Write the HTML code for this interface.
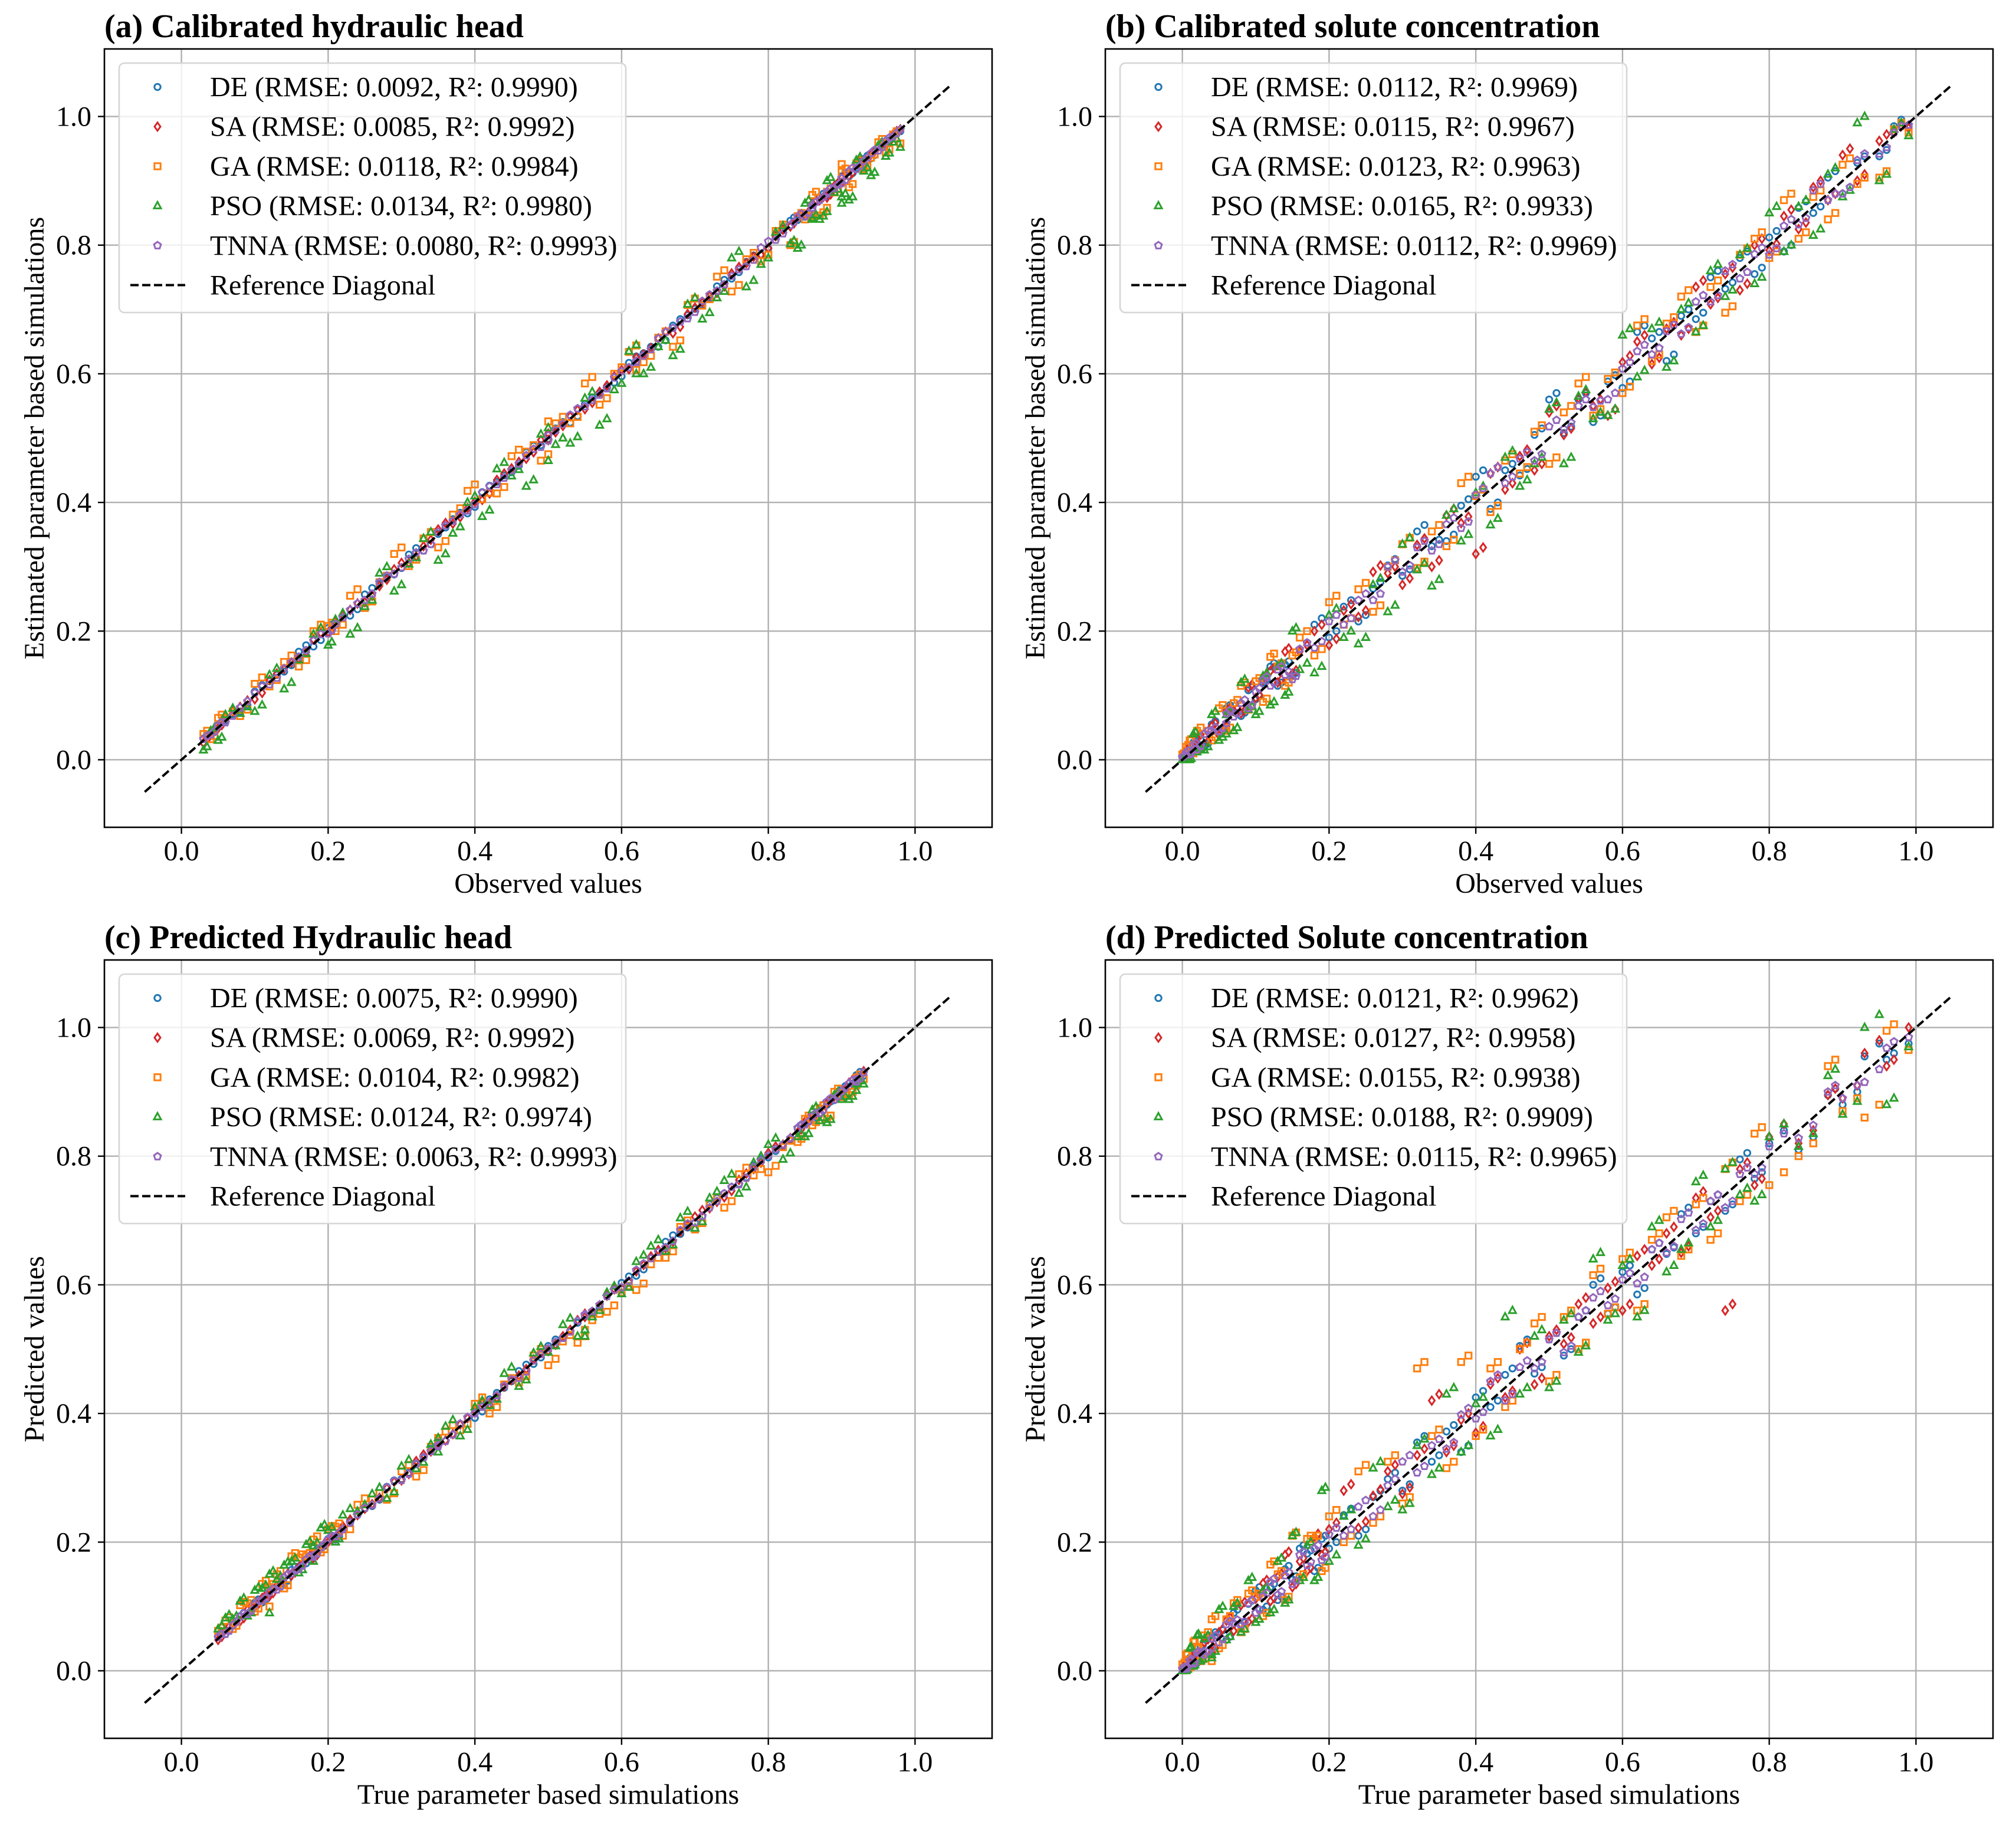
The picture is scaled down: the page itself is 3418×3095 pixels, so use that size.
<!DOCTYPE html>
<html><head><meta charset="utf-8">
<style>
html,body{margin:0;padding:0;background:#fff;}
svg{display:block;font-family:"Liberation Serif","DejaVu Serif",serif;}
</style></head>
<body>
<svg id="fig" width="3418" height="3095" viewBox="0 0 3418 3095" xmlns="http://www.w3.org/2000/svg">
<rect width="3418" height="3095" fill="#fff"/>
</svg>
<script>
// ---------- data (y = x + residual/1000) ----------
const tickVals = [0, 0.2, 0.4, 0.6, 0.8, 1.0];
const tickLabels = ["0.0","0.2","0.4","0.6","0.8","1.0"];
const seriesNames = ["DE","SA","GA","PSO","TNNA"];

const aX = [0.03,0.04,0.05,0.06,0.08,0.10,0.12,0.14,0.16,0.18,0.20,0.21,0.23,0.25,0.27,0.29,0.31,0.33,0.35,0.37,0.39,0.41,0.43,0.45,0.47,0.49,0.51,0.53,0.55,0.57,0.59,0.61,0.63,0.65,0.67,0.69,0.71,0.73,0.75,0.77,0.79,0.81,0.83,0.84,0.85,0.86,0.87,0.88,0.89,0.90,0.91,0.92,0.93,0.94,0.95,0.96,0.97,0.98,0.50,0.62];
const aX2 = [0.035,0.045,0.055,0.07,0.09,0.11,0.13,0.15,0.17,0.19,0.205,0.22,0.24,0.26,0.28,0.30,0.32,0.34,0.36,0.38,0.40,0.42,0.44,0.46,0.48,0.50,0.52,0.54,0.56,0.58,0.60,0.62,0.64,0.66,0.68,0.70,0.72,0.74,0.76,0.78,0.80,0.82,0.835,0.845,0.855,0.865,0.875,0.885,0.895,0.905,0.915,0.925,0.935,0.945,0.955,0.965,0.975,0.88,0.90,0.86];
const aDE = [3,-2,4,1,-5,6,2,-3,8,-4,5,0,-6,7,3,-2,9,-5,1,4,-7,6,2,-3,8,-1,5,-6,3,0,-4,7,2,-8,5,1,-3,6,-2,4,-5,3,8,-1,-6,2,5,-4,1,7,-3,0,4,-5,2,-2,1,-3,6,-4];
const aSA = [-4,3,-1,5,2,-6,4,1,-3,7,-2,5,3,-5,0,6,-4,2,8,-3,1,-6,5,3,-2,7,-1,4,-5,2,6,-3,0,5,-7,3,1,-4,6,2,-5,4,-1,3,-3,5,0,-6,2,4,-2,6,-4,1,3,-5,2,0,-3,5];
const aGA = [10,-8,15,5,-12,18,-6,12,-15,20,8,-10,25,-14,6,30,-9,14,-20,11,28,-5,-16,22,9,-25,13,-7,35,-18,10,24,-12,6,-28,17,-4,21,-22,8,-15,12,-30,5,-10,18,-24,3,-8,14,-20,7,-12,-4,10,-16,2,-22,26,-14];
const aPSO = [-15,5,-20,10,-8,-25,12,-30,-5,15,-22,8,-35,-12,20,-28,-6,14,-40,-18,10,-32,22,-9,-45,16,-20,-38,12,-50,-15,25,-30,-8,-42,18,-25,-12,30,-35,-20,10,-28,-45,15,-18,-30,20,-8,-25,-40,12,-15,-32,5,-22,-10,-28,-35,-20];
const aTNNA = [2,-1,3,-2,1,4,-3,2,0,5,-4,1,3,-2,6,-1,2,-5,4,1,-3,5,-2,0,3,-4,2,6,-1,-3,4,0,-2,5,1,-4,3,-1,2,-3,6,-2,1,4,-5,2,0,3,-1,-4,5,-2,1,3,-3,2,-1,0,4,-2];

const bX = [0.00,0.005,0.01,0.015,0.02,0.03,0.04,0.05,0.06,0.07,0.08,0.09,0.10,0.11,0.12,0.13,0.14,0.15,0.16,0.18,0.20,0.22,0.24,0.26,0.28,0.30,0.32,0.34,0.36,0.38,0.40,0.42,0.44,0.46,0.48,0.50,0.52,0.54,0.56,0.58,0.60,0.62,0.64,0.66,0.68,0.70,0.72,0.74,0.76,0.78,0.80,0.82,0.84,0.86,0.88,0.90,0.92,0.95,0.97,0.99];
const bX2 = [0.002,0.008,0.012,0.018,0.025,0.035,0.045,0.055,0.065,0.075,0.085,0.095,0.105,0.115,0.125,0.135,0.145,0.155,0.17,0.19,0.21,0.23,0.25,0.27,0.29,0.31,0.33,0.35,0.37,0.39,0.41,0.43,0.45,0.47,0.49,0.51,0.53,0.55,0.57,0.59,0.61,0.63,0.65,0.67,0.69,0.71,0.73,0.75,0.77,0.79,0.81,0.83,0.85,0.87,0.89,0.91,0.93,0.96,0.98,0.06];
const bDE = [5,8,-3,12,6,-10,15,-8,20,4,-12,18,-6,10,25,-15,8,-20,12,30,-10,18,-25,6,22,-14,35,-8,-20,15,40,-30,10,-18,25,60,-12,20,-35,8,-22,45,15,-40,10,-15,30,-8,20,-25,12,-30,18,-10,25,-20,8,-12,15,-5];
const bSA = [3,10,-2,8,14,-6,12,-12,16,6,-8,22,-4,14,18,-10,28,-16,8,20,-22,12,-18,32,10,-28,14,-40,20,-12,-80,25,-20,12,-30,40,-15,22,-10,-45,18,30,-25,10,-20,35,-12,15,-30,20,-8,25,-15,30,-10,40,-20,12,5,-8];
const bGA = [8,15,20,-5,25,10,-10,30,-15,18,35,-12,22,-20,40,15,-25,12,30,-18,45,-10,25,-30,20,35,-22,15,-28,50,10,-35,25,-15,30,-40,20,45,-25,12,-30,55,-20,18,40,-35,15,-45,25,30,-20,50,-30,15,-40,25,-25,-45,10,-15];
const bPSO = [0,-5,-10,25,-8,-15,30,-20,10,-25,40,-12,-30,20,-35,15,-40,50,-20,-45,25,-30,-60,12,-50,35,-25,-70,20,-40,15,-55,30,-35,-20,45,-60,25,-30,-45,60,-25,30,-50,20,-35,40,-20,25,-40,50,-30,20,-45,30,-25,70,-50,10,-20];
const bTNNA = [4,6,-2,8,-4,10,5,-6,12,-3,8,-10,6,14,-5,10,-8,-25,12,-6,15,-10,8,-12,20,-8,10,-15,6,-20,12,25,-10,8,-15,18,-6,10,-12,-20,8,15,-10,6,-18,12,-8,20,-12,6,-15,10,-8,25,-10,-20,12,-8,5,-3];

const cX = [0.05,0.06,0.07,0.08,0.09,0.10,0.11,0.12,0.13,0.14,0.15,0.16,0.17,0.18,0.19,0.20,0.21,0.22,0.24,0.26,0.28,0.30,0.32,0.34,0.36,0.38,0.40,0.42,0.44,0.46,0.48,0.50,0.52,0.54,0.56,0.58,0.60,0.62,0.64,0.66,0.68,0.70,0.72,0.74,0.76,0.78,0.80,0.82,0.84,0.85,0.86,0.87,0.88,0.89,0.90,0.91,0.92,0.93,0.55,0.35];
const cX2 = [0.055,0.065,0.075,0.085,0.095,0.105,0.115,0.125,0.135,0.145,0.155,0.165,0.175,0.185,0.195,0.205,0.215,0.23,0.25,0.27,0.29,0.31,0.33,0.35,0.37,0.39,0.41,0.43,0.45,0.47,0.49,0.51,0.53,0.55,0.57,0.59,0.61,0.63,0.65,0.67,0.69,0.71,0.73,0.75,0.77,0.79,0.81,0.83,0.845,0.855,0.865,0.875,0.885,0.895,0.905,0.915,0.925,0.92,0.12,0.18];
const cDE = [4,-3,2,5,-2,6,-4,3,1,-5,7,2,-3,4,-1,5,-6,3,2,-4,6,-2,1,5,-3,4,-7,2,0,6,-3,5,-2,1,-5,4,3,-6,2,7,-1,-4,5,2,-3,6,-2,-5,3,1,-4,5,0,-3,4,-2,6,-5,3,1];
const cSA = [-2,4,1,-3,5,-1,3,-4,2,6,-2,1,4,-5,3,0,-3,5,2,-1,4,-4,6,1,-2,3,5,-6,2,-1,4,-3,0,5,-2,3,-5,1,4,-3,2,6,-1,-4,3,0,5,-2,-3,4,1,-5,2,3,-1,4,-4,2,0,3];
const cGA = [12,18,-5,22,15,-8,25,10,20,-12,28,16,8,24,-6,20,14,-10,18,6,-14,10,-18,8,12,-6,15,-20,5,-12,10,-25,-8,-30,-15,-22,-12,-28,-8,-18,10,-14,6,-20,12,-10,-25,-6,-18,8,-12,4,-22,10,-8,-15,2,-10,-20,12];
const cPSO = [15,22,10,28,-5,25,18,30,12,24,20,-8,26,14,32,18,-10,22,8,15,-12,18,-6,12,20,-15,10,-8,22,-18,14,-5,18,-20,-10,8,-14,16,20,-8,24,-12,15,22,-18,10,18,-25,-10,-20,12,-15,-28,5,-12,-22,-8,-18,-30,-10];
const cTNNA = [2,-3,1,4,-2,3,-1,2,-4,5,1,-2,3,-3,2,4,-1,0,3,-2,5,-4,2,1,-3,4,0,-2,3,-5,2,1,-3,4,-1,2,-4,3,1,-2,5,-3,0,2,-4,3,1,-2,4,-1,2,-3,5,-2,1,3,-4,0,2,-1];

const dX = [0.00,0.005,0.01,0.015,0.02,0.025,0.03,0.04,0.05,0.06,0.07,0.08,0.09,0.10,0.11,0.12,0.13,0.14,0.15,0.16,0.17,0.18,0.19,0.20,0.22,0.24,0.26,0.28,0.30,0.32,0.34,0.36,0.38,0.40,0.42,0.44,0.46,0.48,0.50,0.52,0.54,0.56,0.58,0.60,0.62,0.64,0.66,0.68,0.70,0.72,0.74,0.76,0.78,0.80,0.84,0.88,0.90,0.93,0.96,0.99];
const dX2 = [0.003,0.007,0.012,0.017,0.022,0.028,0.035,0.045,0.055,0.065,0.075,0.085,0.095,0.105,0.115,0.125,0.135,0.145,0.155,0.165,0.175,0.185,0.195,0.21,0.23,0.25,0.27,0.29,0.31,0.33,0.35,0.37,0.39,0.41,0.43,0.45,0.47,0.49,0.51,0.53,0.55,0.57,0.59,0.61,0.63,0.65,0.67,0.69,0.71,0.73,0.75,0.77,0.79,0.82,0.86,0.89,0.92,0.95,0.97,0.04];
const dDE = [5,-3,10,6,-8,12,-5,15,8,-12,20,-10,14,25,-15,10,-20,18,-8,30,12,-25,15,-10,22,-30,10,18,-20,35,-15,12,-40,25,-10,20,45,-18,15,-30,10,40,-25,20,-35,15,-12,30,-20,10,-25,35,-15,20,-30,15,-20,25,-10,-15];
const dSA = [4,8,-2,12,6,-6,14,-10,10,18,-8,22,-14,12,26,-12,16,40,-20,10,-15,28,-10,20,60,-18,12,30,-25,15,80,-20,10,-30,25,-15,40,-35,20,-12,30,-20,15,-40,25,-10,20,-30,35,-15,-180,20,-25,30,-20,15,-10,30,-20,10];
const dGA = [10,20,-5,30,15,-10,25,40,-15,20,35,-20,30,15,-25,45,20,-30,60,-15,35,25,-35,40,-20,70,-30,45,-40,150,25,-45,100,-35,50,-30,40,60,-50,30,-40,55,-25,40,-60,30,45,-35,25,-50,40,-30,55,-45,-40,60,-30,-70,35,-25];
const dPSO = [0,-5,25,-8,35,-10,20,-15,45,-12,30,-20,50,-25,15,-30,40,-35,60,-20,25,-40,90,-30,20,-45,55,-25,-50,30,-35,70,-40,15,-55,110,-30,40,-60,25,-45,80,-35,30,-70,50,-40,-25,60,-30,40,-20,-50,30,-25,45,-35,70,-80,-20];
const dTNNA = [3,-2,6,-4,8,2,-5,10,-6,12,4,-8,15,-10,6,18,-12,8,-15,20,-6,10,-18,12,-10,15,-20,8,25,-12,10,-15,18,-8,30,-20,12,-10,15,-25,10,20,-12,8,-18,15,-10,22,-15,10,-20,12,-8,15,-12,20,-10,-15,8,-5];

const aLegend = ["DE (RMSE: 0.0092, R²: 0.9990)","SA (RMSE: 0.0085, R²: 0.9992)","GA (RMSE: 0.0118, R²: 0.9984)","PSO (RMSE: 0.0134, R²: 0.9980)","TNNA (RMSE: 0.0080, R²: 0.9993)"];
const bLegend = ["DE (RMSE: 0.0112, R²: 0.9969)","SA (RMSE: 0.0115, R²: 0.9967)","GA (RMSE: 0.0123, R²: 0.9963)","PSO (RMSE: 0.0165, R²: 0.9933)","TNNA (RMSE: 0.0112, R²: 0.9969)"];
const cLegend = ["DE (RMSE: 0.0075, R²: 0.9990)","SA (RMSE: 0.0069, R²: 0.9992)","GA (RMSE: 0.0104, R²: 0.9982)","PSO (RMSE: 0.0124, R²: 0.9974)","TNNA (RMSE: 0.0063, R²: 0.9993)"];
const dLegend = ["DE (RMSE: 0.0121, R²: 0.9962)","SA (RMSE: 0.0127, R²: 0.9958)","GA (RMSE: 0.0155, R²: 0.9938)","PSO (RMSE: 0.0188, R²: 0.9909)","TNNA (RMSE: 0.0115, R²: 0.9965)"];

// ---------- rendering ----------
const NS = "http://www.w3.org/2000/svg";
const svg = document.getElementById("fig");
const COLORS = ["#1f77b4","#d62728","#ff7f0e","#2ca02c","#9467bd"];
const XMIN = -0.105, XMAX = 1.105;
function mk(tag, attrs, parent){ const e=document.createElementNS(NS,tag); for(const k in attrs) e.setAttribute(k,attrs[k]); (parent||svg).appendChild(e); return e; }

function markerPath(k, cx, cy){
  if(k===1){ return `M${cx},${cy-7} L${cx+5},${cy} L${cx},${cy+7} L${cx-5},${cy} Z`; }
  if(k===2){ return `M${cx-5.2},${cy-5.2} h10.4 v10.4 h-10.4 Z`; }
  if(k===3){ return `M${cx},${cy-6.8} L${cx+6},${cy+4.3} L${cx-6},${cy+4.3} Z`; }
  let d=""; for(let i=0;i<5;i++){ const a=-Math.PI/2+i*2*Math.PI/5; d+=(i?"L":"M")+(cx+6.2*Math.cos(a)).toFixed(2)+","+(cy+6.2*Math.sin(a)).toFixed(2); } return d+"Z";
}
function drawMarker(k, cx, cy, parent, name){
  let e;
  if(k===0) e=mk("circle",{cx:cx,cy:cy,r:5.2,fill:"none",stroke:COLORS[0],"stroke-width":3},parent);
  else e=mk("path",{d:markerPath(k,cx,cy),fill:"none",stroke:COLORS[k],"stroke-width":3,"stroke-linejoin":"miter"},parent);
  
  
  return e;
}

function panel(id, L, T, W, H, title, xlabel, ylabel, Xs, series, legend){
  const g = mk("g",{});
  
  
  const sx = v => L + (v - XMIN)/(XMAX-XMIN)*W;
  const sy = v => T + H - (v - XMIN)/(XMAX-XMIN)*H;
  const grid = mk("g",{},g);
  
  
  tickVals.forEach(v=>{
    mk("line",{x1:sx(v),x2:sx(v),y1:T,y2:T+H,stroke:"#b0b0b0","stroke-width":2.4},grid);
    mk("line",{x1:L,x2:L+W,y1:sy(v),y2:sy(v),stroke:"#b0b0b0","stroke-width":2.4},grid);
  });
  const cp = mk("clipPath",{id:"clip"+id},g); mk("rect",{x:L,y:T,width:W,height:H},cp);
  const pts = mk("g",{"clip-path":"url(#clip"+id+")"},g);
  
  
  series.forEach((r,k)=>{
    Xs.forEach(X=>{
      for(let i=0;i<X.length;i++){ if(r[i]===undefined) continue;
        drawMarker(k, sx(X[i]), sy(X[i]+r[i]/1000), pts, 'point-'+seriesNames[k].toLowerCase());
      }
    });
  });
  const diag = mk("line",{x1:sx(-0.05),y1:sy(-0.05),x2:sx(1.05),y2:sy(1.05),stroke:"#000","stroke-width":4,"stroke-dasharray":"14 6"},pts);
  
  
  const sp = mk("rect",{x:L,y:T,width:W,height:H,fill:"none",stroke:"#000","stroke-width":2.6},g);
  
  
  tickVals.forEach((v,i)=>{
    mk("line",{x1:sx(v),x2:sx(v),y1:T+H,y2:T+H+11,stroke:"#000","stroke-width":2.4},g);
    const tx = mk("text",{x:sx(v),y:T+H+56,"font-size":48,"text-anchor":"middle",fill:"#000"},g);
    tx.textContent = tickLabels[i];
    
    
    mk("line",{x1:L-11,x2:L,y1:sy(v),y2:sy(v),stroke:"#000","stroke-width":2.4},g);
    const ty = mk("text",{x:L-22,y:sy(v)+16,"font-size":48,"text-anchor":"end",fill:"#000"},g);
    ty.textContent = tickLabels[i];
    
    
  });
  const xt = mk("text",{x:L+W/2,y:T+H+111,"font-size":48,"text-anchor":"middle"},g);
  xt.textContent = xlabel;
  
  
  const yt = mk("text",{x:0,y:0,"font-size":48,"text-anchor":"middle",transform:`translate(${L-103},${T+H/2}) rotate(-90)`},g);
  yt.textContent = ylabel;
  
  
  const tt = mk("text",{x:L,y:T-20,"font-size":56,"font-weight":"bold"},g);
  tt.textContent = title;
  
  
  const lg = mk("g",{},g);
  
  
  mk("rect",{x:L+25,y:T+24,width:859,height:423,rx:9,fill:"#fff","fill-opacity":0.8,stroke:"#d6d6d6","stroke-width":2.6},lg);
  for(let k=0;k<6;k++){
    const cy = T+64.5+67.2*k;
    if(k<5){ drawMarker(k, L+90, cy, lg, 'legend-marker-'+seriesNames[k].toLowerCase()); }
    else { const dl = mk("line",{x1:L+44,x2:L+137,y1:cy,y2:cy,stroke:"#000","stroke-width":4,"stroke-dasharray":"14 6"},lg);
      
       }
    const lt = mk("text",{x:L+179,y:cy+16,"font-size":48},lg);
    lt.textContent = k<5 ? legend[k] : "Reference Diagonal";
    
    
  }
}

const W = 1505, H = 1320;
panel("a",177,83,W,H,"(a) Calibrated hydraulic head","Observed values","Estimated parameter based simulations",[aX,aX2],[aDE,aSA,aGA,aPSO,aTNNA],aLegend);
panel("b",1874,83,W,H,"(b) Calibrated solute concentration","Observed values","Estimated parameter based simulations",[bX,bX2],[bDE,bSA,bGA,bPSO,bTNNA],bLegend);
panel("c",177,1628,W,H,"(c) Predicted Hydraulic head","True parameter based simulations","Predicted values",[cX,cX2],[cDE,cSA,cGA,cPSO,cTNNA],cLegend);
panel("d",1874,1628,W,H,"(d) Predicted Solute concentration","True parameter based simulations","Predicted values",[dX,dX2],[dDE,dSA,dGA,dPSO,dTNNA],dLegend);
</script>
</body></html>
